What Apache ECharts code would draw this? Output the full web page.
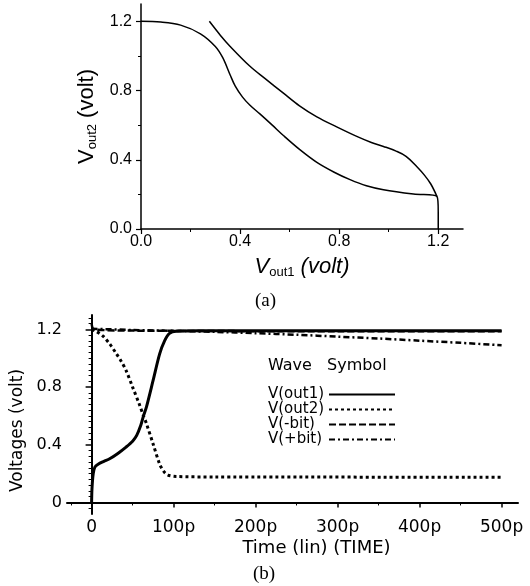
<!DOCTYPE html>
<html><head><meta charset="utf-8">
<script src="https://cdn.jsdelivr.net/npm/echarts@6/dist/echarts.min.js"></script>
<style>html,body{margin:0;padding:0;background:#fff}#c{width:530px;height:586px}</style>
</head><body><div id="c"></div>
<script>
// ---------- Panel (a) data ----------
const aCurve1 = [[0,1.2],[0.08,1.196],[0.16,1.178],[0.24,1.128],[0.3,1.055],[0.33,0.99],[0.36,0.89],[0.38,0.827],[0.41,0.762],[0.44,0.715],[0.48,0.665],[0.53,0.6],[0.575,0.54],[0.64,0.46],[0.71,0.385],[0.78,0.328],[0.844,0.285],[0.91,0.25],[0.979,0.227],[1.1,0.202],[1.195,0.188],[1.2,0.1],[1.2,0]];
const aCurve2 = [[0.276,1.2],[0.32,1.12],[0.36,1.055],[0.44,0.94],[0.5,0.87],[0.575,0.785],[0.64,0.712],[0.71,0.648],[0.79,0.59],[0.871,0.535],[0.93,0.5],[0.979,0.477],[1.03,0.45],[1.07,0.42],[1.114,0.36],[1.145,0.31],[1.17,0.26],[1.195,0.188]];
const aXTicks = [0, 0.4, 0.8, 1.2];
const aXMinor = [0.2, 0.6, 1.0];
const aYTicks = [0, 0.4, 0.8, 1.2];
const aYMinor = [0.2, 0.6, 1.0];

// ---------- Panel (b) data ----------
const bNames = ['V(out1)', 'V(out2)', 'V(-bit)', 'V(+bit)'];
const bOut1 = [[0,0],[0.5,0.1],[2,0.2],[4,0.245],[8,0.265],[15,0.285],[22,0.303],[32,0.34],[42,0.384],[50,0.425],[55,0.465],[60,0.535],[63,0.595],[67,0.665],[75,0.846],[83,1.03],[89,1.12],[95,1.172],[103,1.187],[130,1.19],[500,1.19]];
const bOut2 = [[0,1.2],[6,1.185],[14,1.153],[22,1.1],[30,1.033],[36,0.98],[42,0.916],[50,0.8],[58,0.684],[63,0.605],[67,0.545],[75,0.406],[83,0.266],[88,0.215],[93,0.19],[103,0.18],[150,0.177],[500,0.175]];
const bMinusBit = [[0,1.24],[3,1.2],[50,1.192],[100,1.19],[200,1.188],[300,1.188],[400,1.188],[500,1.188]];
const bPlusBit = [[0,1.205],[50,1.196],[100,1.19],[150,1.183],[200,1.174],[250,1.163],[300,1.15],[350,1.137],[400,1.122],[450,1.107],[500,1.09]];
const bXTicks = [0, 100, 200, 300, 400, 500];
const bXTickLabels = ['0', '100p', '200p', '300p', '400p', '500p'];
const bXMinor = [-25, 50, 150, 250, 350, 450];
const bYTicks = [0, 0.4, 0.8, 1.2];
const bYTickLabels = ['0', '0.4', '0.8', '1.2'];
const bYMinor = [-0.04,0.04,0.08,0.12,0.16,0.2,0.24,0.28,0.32,0.36,0.44,0.48,0.52,0.56,0.6,0.64,0.68,0.72,0.76,0.84,0.88,0.92,0.96,1.0,1.04,1.08,1.12,1.16,1.24,1.28];

const AF = 'Liberation Sans, Arial, sans-serif';
const BF = 'DejaVu Sans, Verdana, sans-serif';

function minorAxis(gridIndex, min, max, vals, len, pos) {
  return {
    type: 'value', gridIndex, min, max, position: pos,
    axisLine: {show: false}, splitLine: {show: false},
    axisLabel: {show: false},
    axisTick: {show: true, length: len, customValues: vals, lineStyle: {color: '#000', width: 1}}
  };
}

const chart = echarts.init(document.getElementById('c'), null, {renderer: 'canvas'});
chart.setOption({
  animation: false,
  backgroundColor: '#fff',
  grid: [
    {left: 141, top: 4, width: 322, height: 225},
    {left: 67, top: 315, width: 451, height: 199}
  ],
  xAxis: [
    {
      type: 'value', gridIndex: 0, min: 0, max: 1.3,
      axisLine: {show: true, lineStyle: {color: '#000', width: 1.5}},
      splitLine: {show: false},
      axisTick: {show: true, length: 5, customValues: aXTicks, lineStyle: {color: '#000', width: 1.2}},
      axisLabel: {customValues: aXTicks, formatter: v => v.toFixed(1), color: '#000', fontFamily: AF, fontSize: 16, margin: 5},
      name: '{v|V}{s|out1}{n| (volt)}', nameLocation: 'middle', nameGap: 26,
      nameTextStyle: {color: '#000', rich: {
        v: {fontFamily: AF, fontSize: 22, fontStyle: 'italic', color: '#000', lineHeight: 24},
        s: {fontFamily: AF, fontSize: 13, color: '#000', verticalAlign: 'bottom', lineHeight: 13, padding: [14, 0, 0, 0]},
        n: {fontFamily: AF, fontSize: 22, fontStyle: 'italic', color: '#000', lineHeight: 24}
      }}
    },
    minorAxis(0, 0, 1.3, aXMinor, 3, 'bottom'),
    {
      type: 'value', gridIndex: 1, min: -30, max: 520,
      axisLine: {show: true, lineStyle: {color: '#000', width: 2}},
      splitLine: {show: false},
      axisTick: {show: true, length: 5, customValues: bXTicks, lineStyle: {color: '#000', width: 1.5}},
      axisLabel: {customValues: bXTicks, formatter: v => bXTickLabels[bXTicks.indexOf(v)], color: '#000', fontFamily: BF, fontSize: 17, margin: 5},
      name: 'Time (lin) (TIME)', nameLocation: 'middle', nameGap: 25,
      nameTextStyle: {color: '#000', fontFamily: BF, fontSize: 18, padding: [0, 0, 0, 48]}
    },
    minorAxis(1, -30, 520, bXMinor, 3, 'bottom')
  ],
  yAxis: [
    {
      type: 'value', gridIndex: 0, min: 0, max: 1.3,
      axisLine: {show: true, lineStyle: {color: '#000', width: 1.5}},
      splitLine: {show: false},
      axisTick: {show: true, length: 5, customValues: aYTicks, lineStyle: {color: '#000', width: 1.2}},
      axisLabel: {customValues: aYTicks, formatter: v => v.toFixed(1), color: '#000', fontFamily: AF, fontSize: 16, margin: 9},
      name: '{v|V}{s|out2}{n| (volt)}', nameLocation: 'middle', nameGap: 42,
      nameTextStyle: {color: '#000', rich: {
        v: {fontFamily: AF, fontSize: 22, color: '#000', lineHeight: 24},
        s: {fontFamily: AF, fontSize: 13, color: '#000', verticalAlign: 'bottom', lineHeight: 13, padding: [14, 0, 0, 0]},
        n: {fontFamily: AF, fontSize: 22, color: '#000', lineHeight: 24}
      }}
    },
    minorAxis(0, 0, 1.3, aYMinor, 3, 'left'),
    {
      type: 'value', gridIndex: 1, min: -0.08, max: 1.3,
      axisLine: {show: true, lineStyle: {color: '#000', width: 2}},
      splitLine: {show: false},
      axisTick: {show: true, length: 6, customValues: bYTicks, lineStyle: {color: '#000', width: 1.5}},
      axisLabel: {customValues: bYTicks, formatter: v => bYTickLabels[bYTicks.indexOf(v)], color: '#000', fontFamily: BF, fontSize: 16, margin: 5},
      name: 'Voltages (volt)', nameLocation: 'middle', nameGap: 34,
      nameTextStyle: {color: '#000', fontFamily: BF, fontSize: 17, padding: [0, 32, 0, 0]}
    },
    minorAxis(1, -0.08, 1.3, bYMinor, 3, 'left')
  ],
  legend: {
    data: bNames, orient: 'vertical', left: 268, top: 387, align: 'right',
    itemGap: 0, itemWidth: 66, itemHeight: 15, padding: 0,
    itemStyle: {opacity: 0},
    formatter: n => '{t|' + n + '}',
    textStyle: {fontFamily: BF, fontSize: 15, color: '#000', lineHeight: 15,
      rich: {t: {fontFamily: BF, fontSize: 15, color: '#000', width: 56, align: 'left', lineHeight: 15}}},
    selectedMode: false
  },
  graphic: [
    {type: 'text', left: 268, top: 358, style: {text: 'Wave', font: '16px ' + BF, fill: '#000'}},
    {type: 'text', left: 327, top: 358, style: {text: 'Symbol', font: '16px ' + BF, fill: '#000'}},
    {type: 'text', left: 255, top: 292, style: {text: '(a)', font: '19px Liberation Serif, Times New Roman, serif', fill: '#000'}},
    {type: 'text', left: 253, top: 565, style: {text: '(b)', font: '19px Liberation Serif, Times New Roman, serif', fill: '#000'}}
  ],
  series: [
    {type: 'line', xAxisIndex: 0, yAxisIndex: 0, data: aCurve1, symbol: 'none', smooth: 0.35,
      lineStyle: {color: '#000', width: 1.5}},
    {type: 'line', xAxisIndex: 0, yAxisIndex: 0, data: aCurve2, symbol: 'none', smooth: 0.35,
      lineStyle: {color: '#000', width: 1.5}},
    {name: bNames[0], type: 'line', xAxisIndex: 2, yAxisIndex: 2, data: bOut1, symbol: 'none', smooth: 0.3,
      itemStyle: {color: '#000'}, lineStyle: {color: '#000', width: 3}, z: 5},
    {name: bNames[1], type: 'line', xAxisIndex: 2, yAxisIndex: 2, data: bOut2, symbol: 'none', smooth: 0.3,
      itemStyle: {color: '#000'}, lineStyle: {color: '#000', width: 3, type: [3, 3]}},
    {name: bNames[2], type: 'line', xAxisIndex: 2, yAxisIndex: 2, data: bMinusBit, symbol: 'none', smooth: 0.3,
      itemStyle: {color: '#000'}, lineStyle: {color: '#000', width: 2.5, type: [7, 3]}},
    {name: bNames[3], type: 'line', xAxisIndex: 2, yAxisIndex: 2, data: bPlusBit, symbol: 'none', smooth: 0.3,
      itemStyle: {color: '#000'}, lineStyle: {color: '#000', width: 2.5, type: [6, 3, 2, 3]}}
  ]
});
</script>
</body></html>
